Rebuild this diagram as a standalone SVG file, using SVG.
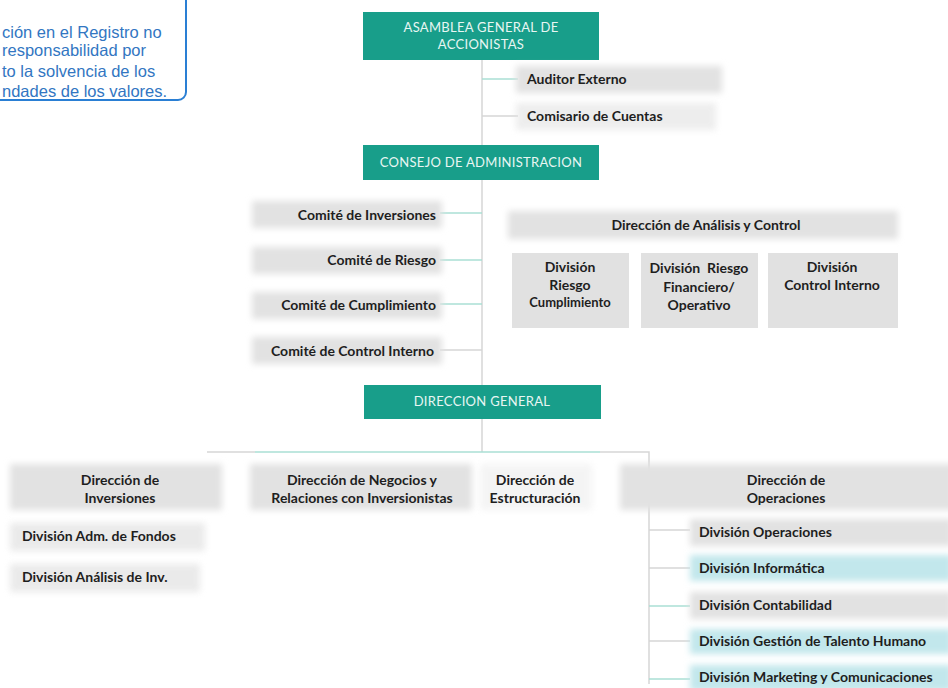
<svg xmlns="http://www.w3.org/2000/svg" width="948" height="688" viewBox="0 0 948 688">
<defs>
<filter id="soft" x="-10%" y="-40%" width="120%" height="180%"><feGaussianBlur stdDeviation="3"/></filter>
<style>
.t{font-family:Lato,"Open Sans","Noto Sans",sans-serif;font-size:14px;font-weight:bold;fill:#1e1e1e}
.s{font-size:13px}
.h{font-family:Lato,"Open Sans","Noto Sans",sans-serif;font-size:13px;fill:#e8f6f3;letter-spacing:0.3px}
.teal{fill:#189e8a}
.shade{fill:#e2e2e2;filter:url(#soft)}
.box{fill:#e1e1e1}
.blue{fill:#c2e7ec;filter:url(#soft)}
.ln{stroke:#d6d6d6;stroke-width:1.5;fill:none}
.lt{stroke:#aadfd5;stroke-width:1.5;fill:none}
.note{font-family:"Liberation Sans",Arial,sans-serif;font-size:16.5px;fill:#3276c2}
</style>
</defs>
<rect width="948" height="688" fill="#ffffff"/>

<g id="note">
<rect x="-20" y="-20" width="206" height="120" rx="8" fill="#ffffff" stroke="#2a7fd4" stroke-width="2"/>
<text class="note" x="2" y="38">ción en el Registro no</text>
<text class="note" x="2" y="56">responsabilidad por</text>
<text class="note" x="2" y="77">to la solvencia de los</text>
<text class="note" x="2" y="97">ndades de los valores.</text>
</g>

<g id="connectors">
<path class="ln" d="M482 60 V385"/>
<path class="ln" d="M482 419 V452"/>
<path class="lt" d="M482 79 H518"/>
<path class="ln" d="M482 116 H518"/>
<path class="lt" d="M440 213 H482"/>
<path class="lt" d="M440 260 H482"/>
<path class="lt" d="M440 304 H482"/>
<path class="ln" d="M440 350 H482"/>
<path class="ln" d="M207 452 H255"/>
<path class="lt" d="M255 452 H600"/>
<path class="ln" d="M600 452 H649 V684"/>
<path class="ln" d="M649 530 H690"/>
<path class="ln" d="M649 568 H690"/>
<path class="lt" d="M649 606 H690"/>
<path class="ln" d="M649 641 H690"/>
<path class="lt" d="M649 679 H690"/>
</g>

<g id="asamblea">
<rect class="teal" x="363" y="12" width="236" height="48"/>
<text class="h" x="481" y="32" text-anchor="middle">ASAMBLEA GENERAL DE</text>
<text class="h" x="481" y="49" text-anchor="middle">ACCIONISTAS</text>
</g>

<g id="auditor">
<rect class="shade" x="516" y="66" width="206" height="27"/>
<text class="t" x="527" y="84">Auditor Externo</text>
</g>
<g id="comisario">
<rect class="shade" x="516" y="103" width="200" height="27" opacity="0.6"/>
<text class="t" x="527" y="121">Comisario de Cuentas</text>
</g>

<g id="consejo">
<rect class="teal" x="363" y="145" width="236" height="35"/>
<text class="h" x="481" y="167" text-anchor="middle">CONSEJO DE ADMINISTRACION</text>
</g>

<g id="comite-inversiones">
<rect class="shade" x="252" y="201" width="190" height="27"/>
<text class="t" x="436" y="220" text-anchor="end">Comité de Inversiones</text>
</g>
<g id="comite-riesgo">
<rect class="shade" x="252" y="247" width="190" height="27"/>
<text class="t" x="436" y="265" text-anchor="end">Comité de Riesgo</text>
</g>
<g id="comite-cumplimiento">
<rect class="shade" x="252" y="292" width="190" height="27"/>
<text class="t" x="436" y="310" text-anchor="end">Comité de Cumplimiento</text>
</g>
<g id="comite-control">
<rect class="shade" x="252" y="337" width="190" height="27"/>
<text class="t" x="434" y="356" text-anchor="end">Comité de Control Interno</text>
</g>

<g id="analisis-control">
<rect class="shade" x="508" y="211" width="390" height="28"/>
<text class="t" x="706" y="230" text-anchor="middle">Dirección de Análisis y Control</text>
</g>
<g id="div-riesgo-cumplimiento">
<rect class="box" x="512" y="253" width="117" height="75"/>
<text class="t" x="570" y="272" text-anchor="middle">División</text>
<text class="t" x="570" y="290" text-anchor="middle">Riesgo</text>
<text class="t s" x="570" y="307" text-anchor="middle">Cumplimiento</text>
</g>
<g id="div-riesgo-financiero">
<rect class="box" x="641" y="253" width="117" height="75"/>
<text class="t" x="699" y="273" text-anchor="middle" xml:space="preserve">División  Riesgo</text>
<text class="t" x="699" y="292" text-anchor="middle">Financiero/</text>
<text class="t" x="699" y="310" text-anchor="middle">Operativo</text>
</g>
<g id="div-control-interno">
<rect class="box" x="768" y="253" width="130" height="75"/>
<text class="t" x="832" y="272" text-anchor="middle">División</text>
<text class="t" x="832" y="290" text-anchor="middle">Control Interno</text>
</g>

<g id="direccion-general">
<rect class="teal" x="364" y="385" width="237" height="34"/>
<text class="h" x="482" y="406" text-anchor="middle">DIRECCION GENERAL</text>
</g>

<g id="dir-inversiones">
<rect class="shade" x="10" y="464" width="212" height="46"/>
<text class="t" x="120" y="485" text-anchor="middle">Dirección de</text>
<text class="t" x="120" y="503" text-anchor="middle">Inversiones</text>
</g>
<g id="div-adm-fondos">
<rect class="shade" x="10" y="523" width="195" height="28" opacity="0.7"/>
<text class="t" x="22" y="541">División Adm. de Fondos</text>
</g>
<g id="div-analisis-inv">
<rect class="shade" x="10" y="564" width="190" height="28" opacity="0.7"/>
<text class="t" x="22" y="582">División Análisis de Inv.</text>
</g>

<g id="dir-negocios">
<rect class="shade" x="250" y="464" width="222" height="46"/>
<text class="t" x="362" y="485" text-anchor="middle">Dirección de Negocios y</text>
<text class="t" x="362" y="503" text-anchor="middle">Relaciones con Inversionistas</text>
</g>
<g id="dir-estructuracion">
<rect class="shade" x="480" y="464" width="112" height="46" opacity="0.35"/>
<text class="t" x="535" y="485" text-anchor="middle">Dirección de</text>
<text class="t" x="535" y="503" text-anchor="middle">Estructuración</text>
</g>

<g id="dir-operaciones">
<rect class="shade" x="620" y="464" width="334" height="46"/>
<text class="t" x="786" y="485" text-anchor="middle">Dirección de</text>
<text class="t" x="786" y="503" text-anchor="middle">Operaciones</text>
</g>
<g id="div-operaciones">
<rect class="shade" x="690" y="519" width="262" height="27"/>
<text class="t" x="699" y="537">División Operaciones</text>
</g>
<g id="div-informatica">
<rect class="blue" x="690" y="555" width="262" height="26"/>
<text class="t" x="699" y="573">División Informática</text>
</g>
<g id="div-contabilidad">
<rect class="shade" x="690" y="592" width="262" height="27"/>
<text class="t" x="699" y="610">División Contabilidad</text>
</g>
<g id="div-talento">
<rect class="blue" x="690" y="629" width="262" height="25"/>
<text class="t" x="699" y="646">División Gestión de Talento Humano</text>
</g>
<g id="div-marketing">
<rect class="blue" x="690" y="665" width="262" height="26"/>
<text class="t" x="699" y="682">División Marketing y Comunicaciones</text>
</g>
</svg>
